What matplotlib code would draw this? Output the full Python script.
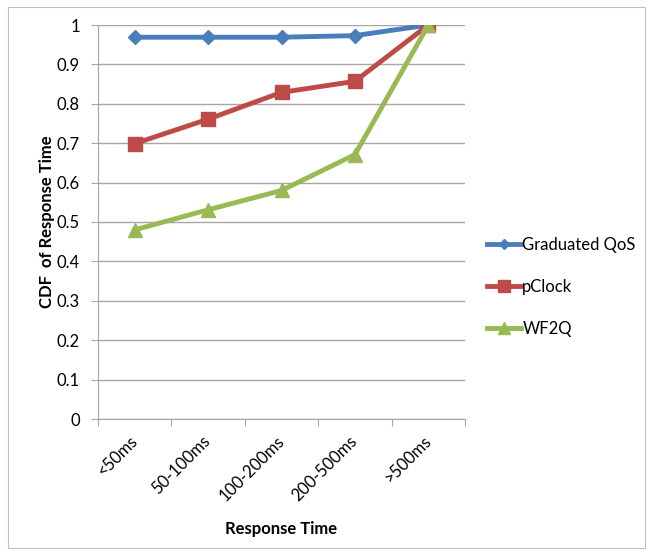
import matplotlib
matplotlib.use("Agg")
import matplotlib.pyplot as plt
from matplotlib.patches import Rectangle

categories = ["<50ms", "50-100ms", "100-200ms", "200-500ms", ">500ms"]
graduated_qos = [0.969, 0.969, 0.969, 0.973, 1.0]
pclock = [0.699, 0.761, 0.829, 0.857, 1.0]
wf2q = [0.48, 0.531, 0.58, 0.671, 1.0]
yticks = [0, 0.1, 0.2, 0.3, 0.4, 0.5, 0.6, 0.7, 0.8, 0.9, 1]
ytick_labels = ["0", "0.1", "0.2", "0.3", "0.4", "0.5", "0.6", "0.7", "0.8", "0.9", "1"]

plt.rcParams['font.family'] = ['Lato', 'DejaVu Sans']

fig = plt.figure(figsize=(6.5, 5.55), dpi=100)
fig.patches.append(Rectangle((8/650, 1-548/555), 637/650, 541/555, transform=fig.transFigure,
                             fill=False, edgecolor='#BFBFBF', linewidth=0.8))
ax = fig.add_axes([98/650, 1-419/555, 367/650, 394/555])

x = list(range(len(categories)))
ax.plot(x, graduated_qos, color='#4A7EBB', lw=3.5, marker='D', ms=7, label='Graduated QoS', zorder=3)
ax.plot(x, pclock, color='#BE4B48', lw=3.5, marker='s', ms=10, label='pClock', zorder=4)
ax.plot(x, wf2q, color='#98B954', lw=3.5, marker='^', ms=10, label='WF2Q', zorder=5)

ax.set_xlim(-0.5, len(categories) - 0.5)
ax.set_ylim(0, 1)
ax.set_yticks(yticks)
ax.set_yticklabels(ytick_labels, fontsize=12)
ax.yaxis.grid(True, color='#A6A6A6', lw=1)
ax.set_axisbelow(True)
for s in ['top', 'right']:
    ax.spines[s].set_visible(False)
for s in ['left', 'bottom']:
    ax.spines[s].set_color('#A6A6A6')
ax.tick_params(axis='y', length=5, color='#A6A6A6', pad=8)
ax.set_xticks([i - 0.5 for i in range(len(categories) + 1)], minor=False)
ax.set_xticklabels([])
ax.tick_params(axis='x', which='major', length=5, color='#A6A6A6')
ax.set_xticks(x, minor=True)
ax.set_xticklabels(categories, minor=True, rotation=45, ha='right', va='center',
                   rotation_mode='anchor', fontsize=12)
ax.tick_params(axis='x', which='minor', length=0, pad=14)

ax.set_xlabel("Response Time", fontsize=12, fontweight='bold', labelpad=12)
ax.set_ylabel("CDF  of Response Time", fontsize=12, fontweight='bold', labelpad=1)

leg = ax.legend(loc='center left', bbox_to_anchor=(1.02, 0.335), frameon=False, fontsize=12,
                handlelength=2.0, handletextpad=0.1, labelspacing=1.55, markerscale=0.8)

fig.savefig("out.png", dpi=100)
